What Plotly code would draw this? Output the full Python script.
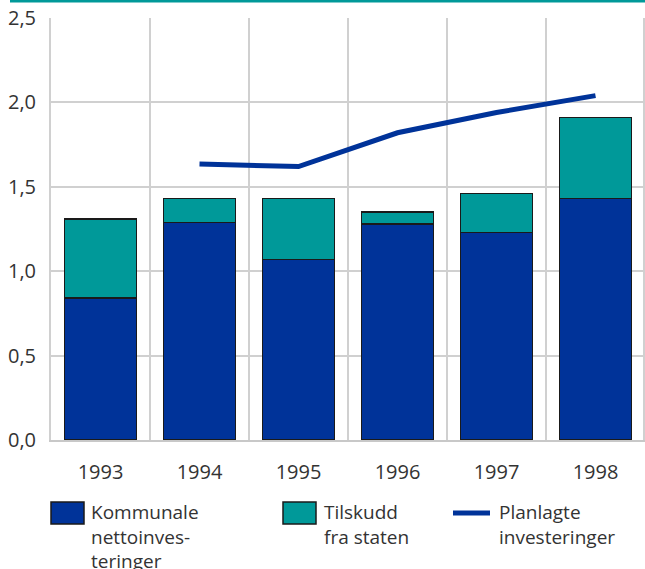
import plotly.graph_objects as go

years = ["1993", "1994", "1995", "1996", "1997", "1998"]
kommunale = [0.84, 1.29, 1.07, 1.28, 1.23, 1.43]
tilskudd = [0.47, 0.14, 0.36, 0.07, 0.23, 0.48]
plan_years = ["1994", "1995", "1996", "1997", "1998"]
planlagte = [1.635, 1.62, 1.82, 1.94, 2.04]
y_ticks = [0, 0.5, 1.0, 1.5, 2.0, 2.5]

BLUE = "#003399"
TEAL = "#009999"
FONT = "Open Sans"
TXT = "#333333"

fig = go.Figure()
fig.add_trace(go.Bar(x=years, y=kommunale, marker=dict(color=BLUE, line=dict(color="#1a1a1a", width=1.5)),
                     name="Kommunale nettoinvesteringer"))
fig.add_trace(go.Bar(x=years, y=tilskudd, marker=dict(color=TEAL, line=dict(color="#1a1a1a", width=1.5)),
                     name="Tilskudd fra staten"))
fig.add_trace(go.Scatter(x=plan_years, y=planlagte, mode="lines",
                         line=dict(color=BLUE, width=5), name="Planlagte investeringer"))

W, H = 645, 569
L, R, T, B = 51, 0, 18, 129
pw, ph = W - L - R, H - T - B
def px(x):
    return (x - L) / pw
def py(y):
    return (H - B - y) / ph

shapes = [
    dict(type="line", xref="paper", yref="paper", x0=px(10), x1=1.0, y0=py(1), y1=py(1),
         line=dict(color=TEAL, width=3)),
    dict(type="line", xref="paper", yref="paper", x0=px(644), x1=px(644), y0=0, y1=1,
         line=dict(color="#d0d0d0", width=2), layer="below"),
    dict(type="rect", xref="paper", yref="paper", x0=px(51), x1=px(84), y0=py(502), y1=py(524),
         fillcolor=BLUE, line=dict(color="#1a1a1a", width=1.5)),
    dict(type="rect", xref="paper", yref="paper", x0=px(283), x1=px(316), y0=py(502), y1=py(524),
         fillcolor=TEAL, line=dict(color="#1a1a1a", width=1.5)),
    dict(type="line", xref="paper", yref="paper", x0=px(453), x1=px(490), y0=py(513), y1=py(513),
         line=dict(color=BLUE, width=5)),
]
annotations = [
    dict(xref="paper", yref="paper", x=px(89), y=py(497), xanchor="left", yanchor="top", align="left",
         text="Kommunale<br>nettoinves-<br>teringer", showarrow=False, font=dict(size=19, color=TXT, family=FONT)),
    dict(xref="paper", yref="paper", x=px(322), y=py(497), xanchor="left", yanchor="top", align="left",
         text="Tilskudd<br>fra staten", showarrow=False, font=dict(size=19, color=TXT, family=FONT)),
    dict(xref="paper", yref="paper", x=px(497), y=py(497), xanchor="left", yanchor="top", align="left",
         text="Planlagte<br>investeringer", showarrow=False, font=dict(size=19, color=TXT, family=FONT)),
]

fig.update_layout(
    width=W, height=H, margin=dict(l=L, r=R, t=T, b=B),
    barmode="stack", bargap=0.27, showlegend=False,
    plot_bgcolor="white", paper_bgcolor="white",
    separators=", ",
    font=dict(family=FONT, size=20, color=TXT),
    shapes=shapes, annotations=annotations,
    xaxis=dict(type="category", tickson="boundaries", showgrid=True, gridcolor="#d0d0d0", gridwidth=2,
               ticks="", showline=True, linecolor="#c8c8c8", linewidth=2, ticklabelstandoff=13,
               range=[-0.5, 5.5], automargin=False),
    yaxis=dict(range=[0, 2.5], tickvals=y_ticks, tickformat=".1f", showgrid=True, gridcolor="#d0d0d0",
               gridwidth=2, zeroline=False, showline=True, linecolor="#d0d0d0", linewidth=2,
               ticks="", ticklabelstandoff=9, automargin=False),
)

fig.write_html("out.html", config={"displayModeBar": False},
               post_script="document.body.style.margin='0';document.body.style.overflow='hidden';")
